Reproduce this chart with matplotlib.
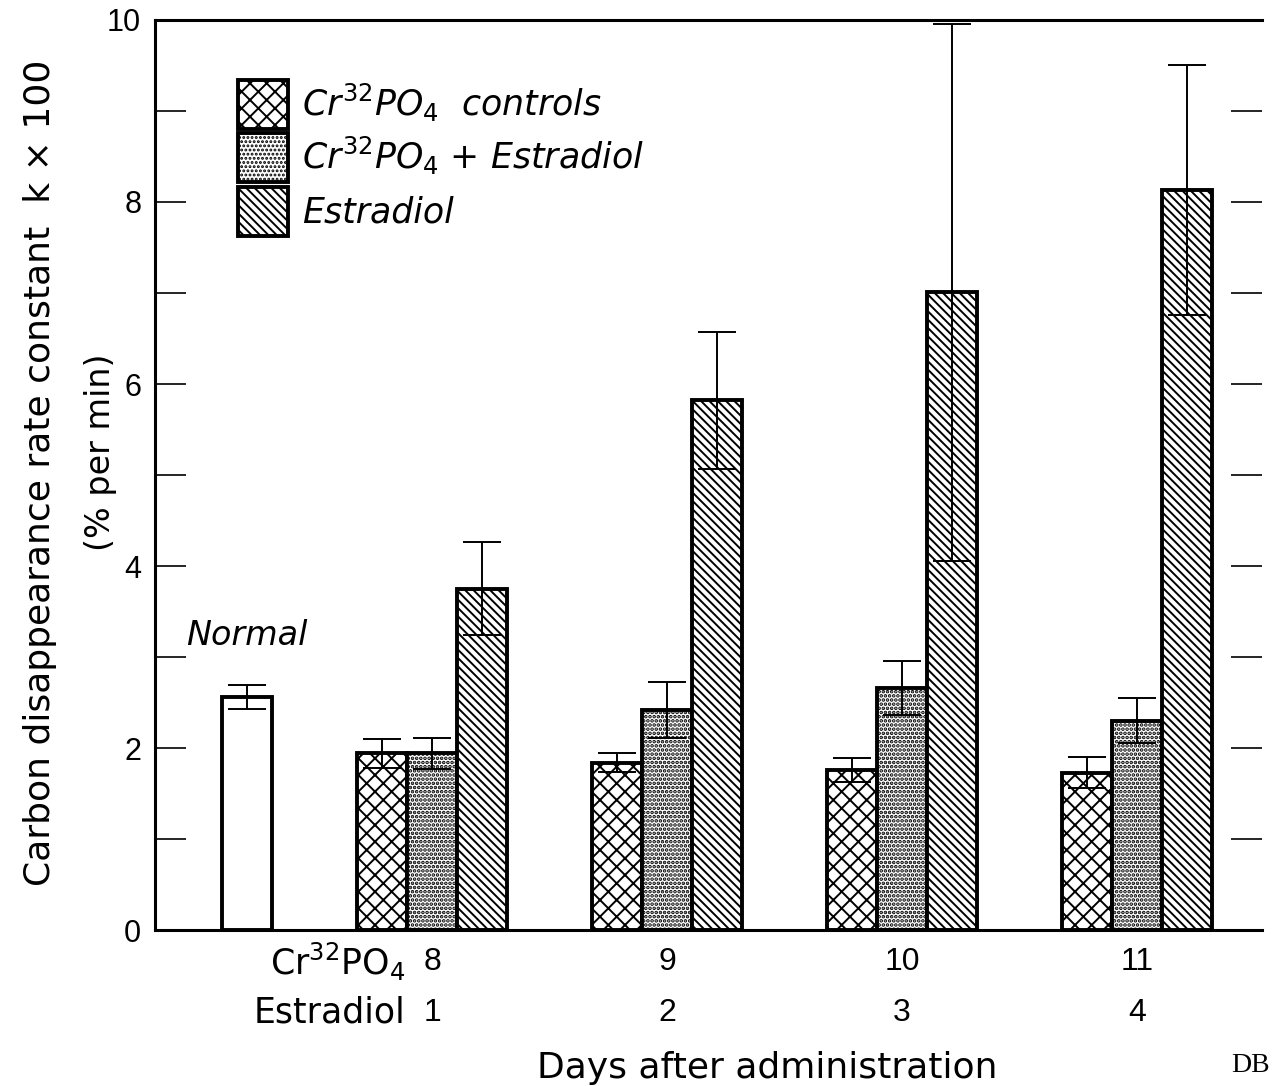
import matplotlib
matplotlib.use('Agg')
import matplotlib.pyplot as plt
import numpy as np
from matplotlib.patches import Patch

plt.rcParams['font.family'] = ['DejaVu Sans']
plt.rcParams['mathtext.fontset'] = 'dejavusans'

# data
normal_val = 2.56
normal_err = 0.13
cr_days = [8, 9, 10, 11]
estr_days = [1, 2, 3, 4]
controls = [1.94, 1.84, 1.76, 1.73]
controls_err = [0.16, 0.10, 0.13, 0.17]
cr_estr = [1.94, 2.42, 2.66, 2.30]
cr_estr_err = [0.17, 0.31, 0.30, 0.25]
estradiol = [3.75, 5.82, 7.01, 8.13]
estradiol_err = [0.51, 0.75, 2.95, 1.37]

group_pos = np.arange(4)
bar_w = 0.213
normal_pos = -0.787
# hatch pattern and hatch line width per series
styles = [('xx', 1.4), ('....', 1.8), ('\\\\\\\\', 1.4)]

fig = plt.figure(figsize=(12.76, 10.86), dpi=100)
ax = fig.add_axes([0.1215, 0.1436, 0.8675, 0.838])

bar_kw = dict(width=bar_w, color='white', edgecolor='black', linewidth=2.8, zorder=2)
ax.bar(normal_pos, normal_val, **bar_kw)
handles = []
for off, vals, (h, hlw) in zip([-bar_w, 0, bar_w], [controls, cr_estr, estradiol], styles):
    plt.rcParams['hatch.linewidth'] = hlw
    ax.bar(group_pos + off, vals, hatch=h, **bar_kw)
    handles.append(Patch(facecolor='white', edgecolor='black', linewidth=2.8, hatch=h))

err_kw = dict(fmt='none', ecolor='black', elinewidth=1.4, capsize=14, capthick=1.4, zorder=3, clip_on=False)
ax.errorbar([normal_pos], [normal_val], yerr=[normal_err], **err_kw)
ax.errorbar(group_pos - bar_w, controls, yerr=controls_err, **err_kw)
ax.errorbar(group_pos, cr_estr, yerr=cr_estr_err, **err_kw)
ax.errorbar(group_pos + bar_w, estradiol, yerr=estradiol_err, **err_kw)

ax.set_xlim(-1.179, 3.532)
ax.set_ylim(0, 10)
ax.set_xticks([])
ax.set_yticks([0, 2, 4, 6, 8, 10])
ax.set_yticks([1, 3, 5, 7, 9], minor=True)
ax.tick_params(axis='y', which='both', direction='in', length=22, width=1.2,
               right=True, labelsize=22, pad=10)
for lab in ax.get_yticklabels():
    lab.set_family('Liberation Sans')
ax.spines['right'].set_visible(False)
for s in ['left', 'top', 'bottom']:
    ax.spines[s].set_linewidth(2.2)

ax.text(normal_pos, 3.05, 'Normal', style='italic', fontsize=24, ha='center', va='bottom')

# x-axis day rows
tr = ax.get_xaxis_transform()
ax.text(group_pos[0] - 0.115, -0.035, 'Cr$^{32}$PO$_4$', transform=tr, ha='right', va='center', fontsize=25)
ax.text(group_pos[0] - 0.115, -0.091, 'Estradiol', transform=tr, ha='right', va='center', fontsize=25)
for p, c, e in zip(group_pos, cr_days, estr_days):
    ax.text(p, -0.035, str(c), transform=tr, ha='center', va='center', fontsize=23, family='Liberation Sans')
    ax.text(p, -0.091, str(e), transform=tr, ha='center', va='center', fontsize=23, family='Liberation Sans')

fig.text(0.601, 0.017, 'Days after administration', ha='center', va='center', fontsize=26)
fig.text(0.98, 0.019, 'DB', ha='center', va='center', fontsize=20, family='Liberation Serif')

fig.text(0.031, 0.565, 'Carbon disappearance rate constant  k × 100', rotation=90,
         ha='center', va='center', fontsize=26)
fig.text(0.079, 0.584, '(% per min)', rotation=90, ha='center', va='center', fontsize=24)

labels = ['$Cr^{32}PO_4$  controls', '$Cr^{32}PO_4$ + Estradiol', 'Estradiol']
ax.legend(handles, labels, loc='upper left', bbox_to_anchor=(0.075, 0.934),
          frameon=False, borderpad=0, borderaxespad=0, handlelength=1.45,
          handleheight=1.8, labelspacing=0.12, handletextpad=0.4,
          prop={'style': 'italic', 'size': 25})

fig.savefig('out.png', dpi=100)
